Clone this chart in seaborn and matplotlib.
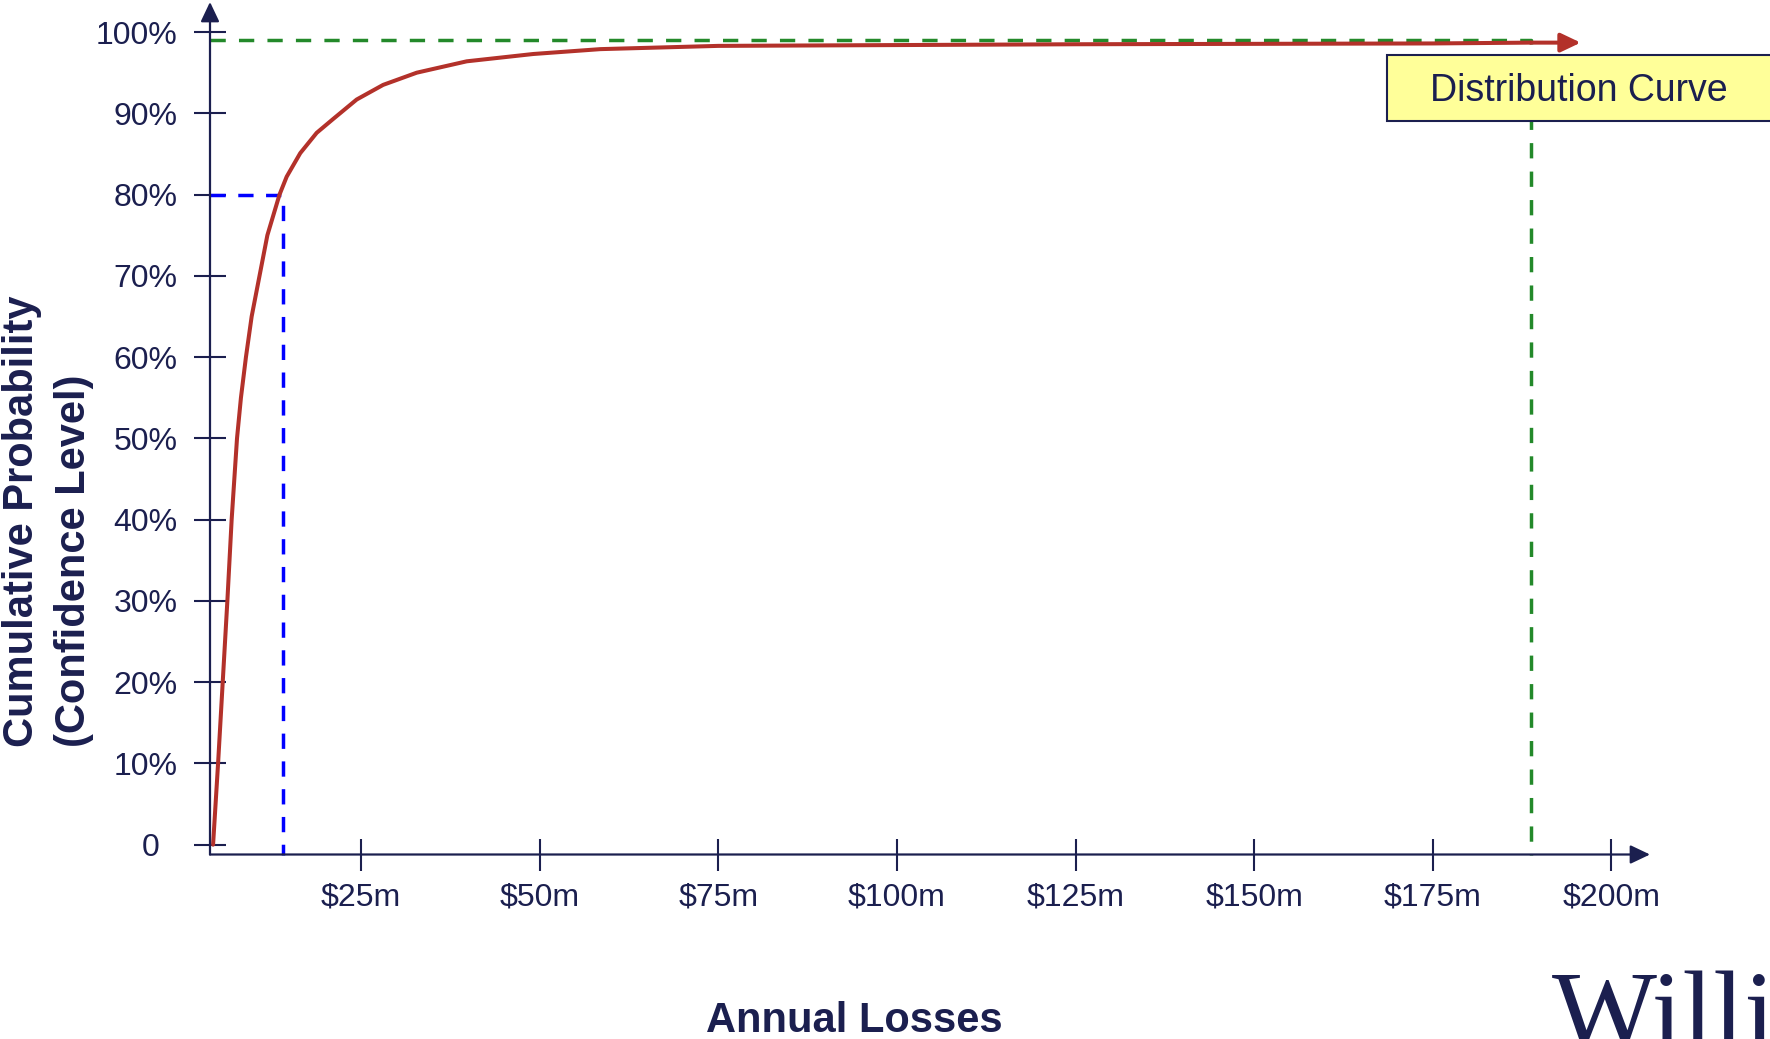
import matplotlib
matplotlib.use("Agg")
import matplotlib.pyplot as plt
import pandas as pd
import seaborn as sns
from matplotlib.patches import Rectangle

# Cumulative distribution of annual losses ($m) against confidence level (%)
loss_m = [4.3, 5.0, 5.65, 6.3, 6.9, 7.65, 8.2, 8.9, 9.7, 10.8, 11.9, 13.6, 14.6,
          16.5, 18.8, 21.1, 24.4, 28.1, 32.8, 39.8, 49.1, 58.5, 75.0, 100.0,
          125.0, 150.0, 175.0, 188.7, 195.7]
confidence = [0, 10, 20, 30, 40, 50, 55, 60, 65, 70, 75, 80, 82.2,
              85.1, 87.6, 89.3, 91.7, 93.5, 95.0, 96.4, 97.3, 97.9, 98.3, 98.4,
              98.5, 98.55, 98.6, 98.7, 98.7]

x_ticks = [25, 50, 75, 100, 125, 150, 175, 200]
x_tick_labels = ["$25m", "$50m", "$75m", "$100m", "$125m", "$150m", "$175m", "$200m"]
y_ticks = [0, 10, 20, 30, 40, 50, 60, 70, 80, 90, 100]
y_tick_labels = ["0  ", "10%", "20%", "30%", "40%", "50%", "60%", "70%", "80%", "90%", "100%"]

# Reference levels marked with dashed guides
level_80_loss = 14.1
level_80 = 80
level_99_loss = 188.7
level_99 = 99

NAVY = "#1b1f4f"
RED = "#b3312a"
GREEN = "#23892a"
BLUE = "#0000ff"

sns.set_theme(style="white")
plt.rcParams["font.family"] = ["Liberation Sans", "DejaVu Sans"]

W, H = 1770, 1039
fig = plt.figure(figsize=(W / 100, H / 100), dpi=100)
fig.patch.set_facecolor("white")

ax_left, ax_right = 210 / W, 1650 / W
ax_bottom, ax_top = 1 - 854.5 / H, 1 - 2 / H
ax = fig.add_axes([ax_left, ax_bottom, ax_right - ax_left, ax_top - ax_bottom])
ax.set_facecolor("none")

ax.set_xlim(3.87, 205.4)
ax.set_ylim(-1.21, 103.7)

# Dashed guides: 80% and 99% confidence levels
ax.plot([ax.get_xlim()[0], level_80_loss, level_80_loss],
        [level_80, level_80, ax.get_ylim()[0]],
        color=BLUE, lw=2.5, dashes=(4.4, 3.6), zorder=2, clip_on=False)
ax.plot([ax.get_xlim()[0], level_99_loss, level_99_loss],
        [level_99, level_99, ax.get_ylim()[0]],
        color=GREEN, lw=2.5, dashes=(4.4, 3.8), zorder=2, clip_on=False)

# Distribution curve
df = pd.DataFrame({"loss": loss_m, "conf": confidence})
sns.lineplot(data=df.iloc[:-1], x="loss", y="conf", sort=False, estimator=None,
             color=RED, lw=2.9, ax=ax, zorder=3)
ax.annotate("", xy=(loss_m[-1], confidence[-1]), xytext=(loss_m[-2], confidence[-2]),
            xycoords="data", annotation_clip=False,
            arrowprops=dict(arrowstyle="-|>,head_length=0.8,head_width=0.38",
                            color=RED, lw=2.9, shrinkA=0, shrinkB=0,
                            mutation_scale=15), zorder=3)

# Axes drawn as arrows
for spine in ax.spines.values():
    spine.set_visible(False)
arrow_kw = dict(arrowstyle="-|>,head_length=0.8,head_width=0.38", color=NAVY,
                lw=1.6, shrinkA=0, shrinkB=0, mutation_scale=15)
ax.annotate("", xy=(1, 0), xytext=(0, 0), xycoords="axes fraction",
            arrowprops=arrow_kw, zorder=4)
ax.annotate("", xy=(0, 1), xytext=(0, 0), xycoords="axes fraction",
            arrowprops=arrow_kw, zorder=4)

ax.set_xticks(x_ticks)
ax.set_xticklabels(x_tick_labels)
ax.set_yticks(y_ticks)
ax.set_yticklabels(y_tick_labels)
ax.tick_params(axis="both", direction="inout", length=23, width=1.5, color=NAVY,
               labelcolor=NAVY, labelsize=23, bottom=True, left=True)
ax.tick_params(axis="x", pad=9)
ax.tick_params(axis="y", pad=12)
ax.set_xlabel("")
ax.set_ylabel("")
ax.grid(False)

# Axis titles
fig.text(21.5 / W, 1 - 747 / H, "Cumulative Probability", rotation=90,
         rotation_mode="anchor", ha="left", va="center", fontsize=30,
         fontweight="bold", color=NAVY)
fig.text(74.5 / W, 1 - 747 / H, "(Confidence Level)", rotation=90,
         rotation_mode="anchor", ha="left", va="center", fontsize=30,
         fontweight="bold", color=NAVY)
fig.text(854 / W, 1 - 1032 / H, "Annual Losses", ha="center", va="baseline",
         fontsize=30, fontweight="bold", color=NAVY)

# Callout box
fig.patches.append(Rectangle((1387 / W, 1 - 121 / H), (1780 - 1387) / W, 66 / H,
                             transform=fig.transFigure, facecolor="#ffff99",
                             edgecolor=NAVY, lw=1.5, zorder=5))
fig.text(1579 / W, 1 - 91 / H, "Distribution Curve", ha="center", va="center",
         fontsize=27, color=NAVY, zorder=6)

# Logo
fig.text(1552 / W, 1 - 1047 / H, "Willis", ha="left", va="baseline", fontsize=80,
         family=["Liberation Serif", "DejaVu Serif"], color=NAVY)

fig.savefig("out.png", dpi=100)
